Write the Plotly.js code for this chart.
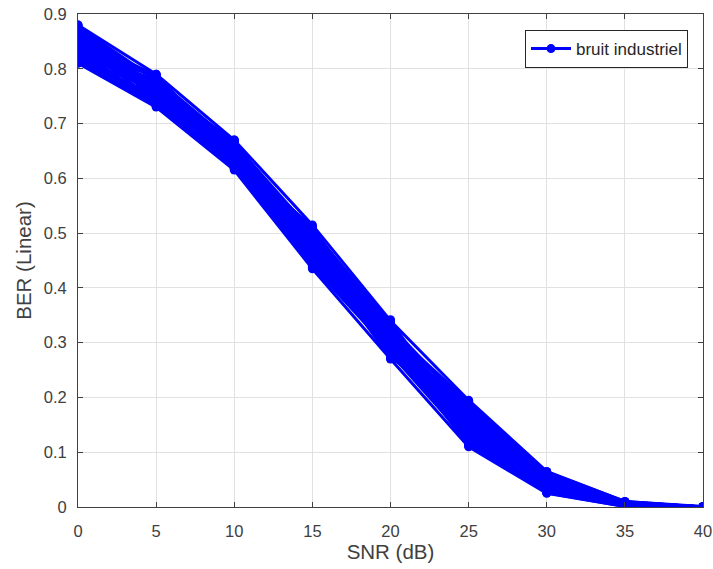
<!DOCTYPE html>
<html>
<head>
<meta charset="utf-8">
<script src="https://cdn.plot.ly/plotly-3.0.1.min.js"></script>
<style>html,body{margin:0;padding:0;background:#fff;}#chart{width:713px;height:569px;}</style>
</head>
<body>
<div id="chart"></div>
<script>
// SNR axis (dB)
const snr = [0, 5, 10, 15, 20, 25, 30, 35, 40];
const xTicks = [0, 5, 10, 15, 20, 25, 30, 35, 40];
const yTicks = [0, 0.1, 0.2, 0.3, 0.4, 0.5, 0.6, 0.7, 0.8, 0.9];
const legendName = "bruit industriel";

// BER runs (each run is one curve)
const ber01 = [0.880, 0.790, 0.670, 0.515, 0.340, 0.195, 0.065, 0.010, 0.001];
const ber02 = [0.810, 0.730, 0.615, 0.435, 0.270, 0.110, 0.025, 0.001, 0.000];
const ber03 = [0.850, 0.760, 0.640, 0.470, 0.300, 0.150, 0.045, 0.005, 0.000];
const ber04 = [0.830, 0.780, 0.660, 0.500, 0.320, 0.170, 0.050, 0.006, 0.000];
const ber05 = [0.870, 0.750, 0.630, 0.450, 0.290, 0.130, 0.035, 0.003, 0.000];
const ber06 = [0.820, 0.740, 0.625, 0.460, 0.330, 0.180, 0.060, 0.008, 0.000];
const ber07 = [0.860, 0.770, 0.655, 0.490, 0.280, 0.120, 0.030, 0.002, 0.000];
const ber08 = [0.840, 0.785, 0.645, 0.480, 0.310, 0.160, 0.040, 0.004, 0.000];
const ber09 = [0.875, 0.765, 0.635, 0.505, 0.335, 0.140, 0.055, 0.007, 0.000];
const ber10 = [0.815, 0.745, 0.660, 0.440, 0.285, 0.185, 0.030, 0.002, 0.000];
const ber11 = [0.855, 0.735, 0.620, 0.455, 0.305, 0.125, 0.050, 0.006, 0.000];
const ber12 = [0.835, 0.775, 0.665, 0.495, 0.275, 0.165, 0.060, 0.009, 0.000];
const ber13 = [0.865, 0.755, 0.650, 0.465, 0.325, 0.145, 0.035, 0.004, 0.000];
const ber14 = [0.825, 0.770, 0.630, 0.485, 0.295, 0.175, 0.045, 0.003, 0.000];
const ber15 = [0.845, 0.740, 0.640, 0.510, 0.315, 0.115, 0.040, 0.005, 0.000];
const ber16 = [0.870, 0.780, 0.620, 0.445, 0.290, 0.190, 0.055, 0.008, 0.000];
const ber17 = [0.820, 0.760, 0.670, 0.475, 0.330, 0.135, 0.028, 0.002, 0.000];
const ber18 = [0.860, 0.745, 0.655, 0.500, 0.280, 0.155, 0.062, 0.007, 0.000];
const ber19 = [0.840, 0.790, 0.625, 0.460, 0.320, 0.120, 0.038, 0.004, 0.000];
const ber20 = [0.880, 0.750, 0.645, 0.490, 0.300, 0.180, 0.048, 0.006, 0.001];
const ber21 = [0.812, 0.752, 0.668, 0.468, 0.272, 0.188, 0.058, 0.009, 0.000];
const ber22 = [0.878, 0.738, 0.628, 0.508, 0.298, 0.112, 0.033, 0.003, 0.000];
const ber23 = [0.828, 0.788, 0.638, 0.438, 0.338, 0.148, 0.052, 0.005, 0.000];
const ber24 = [0.868, 0.762, 0.618, 0.488, 0.312, 0.168, 0.027, 0.002, 0.000];
const ber25 = [0.838, 0.732, 0.652, 0.452, 0.288, 0.128, 0.064, 0.010, 0.000];
const ber26 = [0.858, 0.782, 0.662, 0.478, 0.322, 0.192, 0.042, 0.006, 0.000];
const ber27 = [0.818, 0.748, 0.642, 0.498, 0.278, 0.138, 0.047, 0.004, 0.000];
const ber28 = [0.848, 0.772, 0.622, 0.442, 0.308, 0.178, 0.036, 0.003, 0.000];
const ber29 = [0.872, 0.742, 0.668, 0.462, 0.342, 0.118, 0.057, 0.008, 0.000];
const ber30 = [0.832, 0.758, 0.632, 0.512, 0.292, 0.158, 0.031, 0.002, 0.000];
const ber31 = [0.852, 0.786, 0.648, 0.472, 0.274, 0.172, 0.053, 0.007, 0.000];
const ber32 = [0.822, 0.736, 0.658, 0.482, 0.328, 0.132, 0.044, 0.004, 0.000];
const ber33 = [0.862, 0.768, 0.617, 0.448, 0.318, 0.186, 0.061, 0.009, 0.000];
const ber34 = [0.842, 0.752, 0.663, 0.502, 0.283, 0.122, 0.026, 0.001, 0.000];
const ber35 = [0.877, 0.779, 0.637, 0.458, 0.302, 0.162, 0.049, 0.005, 0.000];
const ber36 = [0.814, 0.733, 0.627, 0.492, 0.336, 0.142, 0.039, 0.003, 0.000];
const ber37 = [0.866, 0.764, 0.669, 0.438, 0.296, 0.193, 0.063, 0.008, 0.000];
const ber38 = [0.826, 0.744, 0.652, 0.506, 0.286, 0.152, 0.034, 0.002, 0.000];
const ber39 = [0.856, 0.788, 0.624, 0.468, 0.326, 0.113, 0.058, 0.006, 0.000];
const ber40 = [0.836, 0.758, 0.646, 0.486, 0.308, 0.176, 0.043, 0.004, 0.000];

const runs = [ber01, ber02, ber03, ber04, ber05, ber06, ber07, ber08, ber09, ber10,
              ber11, ber12, ber13, ber14, ber15, ber16, ber17, ber18, ber19, ber20,
              ber21, ber22, ber23, ber24, ber25, ber26, ber27, ber28, ber29, ber30,
              ber31, ber32, ber33, ber34, ber35, ber36, ber37, ber38, ber39, ber40];

const blue = "rgb(0,0,255)";
const traces = runs.map((ys, i) => ({
  x: snr,
  y: ys,
  type: "scatter",
  mode: "lines+markers",
  name: legendName,
  showlegend: i === 0,
  line: {color: blue, width: 3},
  marker: {color: blue, size: 9, symbol: "circle"},
  hoverinfo: "x+y"
}));

const fontFam = "Liberation Sans, Arial, sans-serif";
const axisCommon = {
  showline: true,
  linecolor: "#404040",
  linewidth: 1,
  mirror: "ticks",
  ticks: "inside",
  ticklen: 5,
  tickcolor: "#404040",
  showgrid: true,
  gridcolor: "#e1e1e1",
  gridwidth: 1,
  zeroline: false,
  tickfont: {family: fontFam, size: 16.5, color: "#404040"}
};

const layout = {
  width: 713,
  height: 569,
  margin: {l: 78, r: 10, t: 14, b: 62},
  paper_bgcolor: "#ffffff",
  plot_bgcolor: "#ffffff",
  showlegend: true,
  xaxis: Object.assign({}, axisCommon, {
    range: [0, 40],
    tickvals: xTicks,
    ticktext: xTicks.map(String),
    ticklabelstandoff: 9,
    title: {text: "SNR (dB)", font: {family: fontFam, size: 20.5, color: "#404040"}, standoff: 1}
  }),
  yaxis: Object.assign({}, axisCommon, {
    range: [0, 0.9],
    tickvals: yTicks,
    ticktext: yTicks.map(v => v === 0 ? "0" : v.toFixed(1)),
    ticklabelstandoff: 7,
    title: {text: "BER (Linear)", font: {family: fontFam, size: 20.5, color: "#404040"}, standoff: 6}
  }),
  legend: {
    x: 0.976, y: 0.9675, xanchor: "right", yanchor: "top",
    bgcolor: "#ffffff",
    bordercolor: "#262626",
    borderwidth: 1,
    font: {family: fontFam, size: 17, color: "#262626"},
    itemwidth: 40
  }
};

Plotly.newPlot("chart", traces, layout, {displayModeBar: false, staticPlot: true});
</script>
</body>
</html>
